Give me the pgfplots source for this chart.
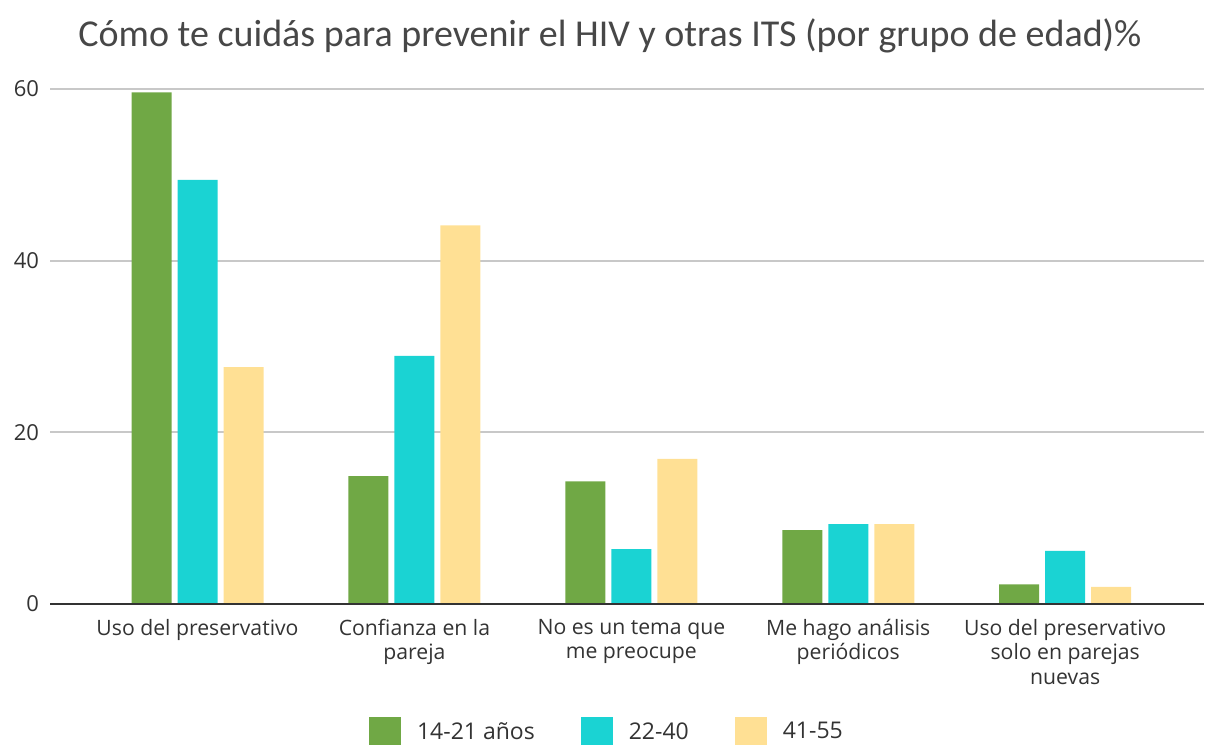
\documentclass[border=0pt]{standalone}
\usepackage{pgfplots}
\pgfplotsset{compat=1.18}
\usepackage{fontspec}
\setmainfont{Open Sans}
\newfontfamily\titlefont{Carlito}
\definecolor{cgreen}{HTML}{70A845}
\definecolor{ccyan}{HTML}{1AD3D3}
\definecolor{cyellow}{HTML}{FFE094}
\definecolor{cgrid}{HTML}{C8C8C8}
\definecolor{ctext}{HTML}{333333}
\begin{document}
\begin{tikzpicture}
\path[use as bounding box] (0,0) rectangle (603pt,372.5pt);
\begin{axis}[
  at={(25pt,70.5pt)}, anchor=south west,
  scale only axis, width=577pt, height=257.5pt,
  ymin=0, ymax=60, xmin=-0.68, xmax=4.64,
  ytick={0,20,40,60},
  xtick={0,1,2,3,4},
  xticklabels={{Uso del preservativo},{Confianza en la\\pareja},{No es un tema que\\me preocupe},{Me hago análisis\\periódicos},{Uso del preservativo\\solo en parejas\\nuevas}},
  xticklabel style={align=center, font=\fontsize{10.6}{12.3}\selectfont, text=ctext, yshift=-4pt},
  yticklabel style={font=\fontsize{11}{12}\selectfont, text=ctext, xshift=-2pt},
  /pgf/number format/assume math mode=true,
  major tick length=0pt,
  axis line style={draw=none},
  ymajorgrids, grid style={cgrid, line width=1pt},
  ybar=3pt, bar width=20pt,
  legend columns=3,
  legend style={draw=none, at={(0.4835,-0.249)}, anchor=center, font=\fontsize{11.5}{13}\selectfont, text=ctext,
    /tikz/every odd column/.append style={column sep=6pt},
    /tikz/every even column/.append style={column sep=21pt}},
  legend image code/.code={\fill[#1] (0pt,-7.5pt) rectangle (16pt,7.5pt);},
  clip=false,
]
\addplot[fill=cgreen, draw=none] coordinates {(0,59.6) (1,14.9) (2,14.3) (3,8.6) (4,2.3)};
\addplot[fill=ccyan, draw=none] coordinates {(0,49.4) (1,28.9) (2,6.4) (3,9.3) (4,6.2)};
\addplot[fill=cyellow, draw=none] coordinates {(0,27.6) (1,44.1) (2,16.9) (3,9.3) (4,2.0)};
\legend{14-21 años,22-40,41-55}
\draw[ctext, line width=1.2pt] (axis cs:-0.68,0) -- (axis cs:4.64,0);
\end{axis}
\node[font=\titlefont\fontsize{19}{22}\selectfont, text=ctext!90] at (305pt,354.5pt) {Cómo te cuidás para prevenir el HIV y otras ITS (por grupo de edad)\%};
\end{tikzpicture}
\end{document}
